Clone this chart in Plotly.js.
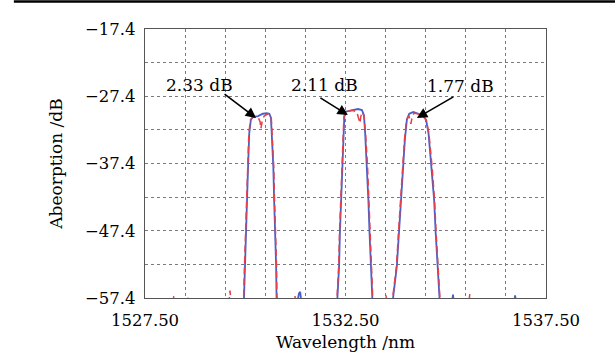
<!DOCTYPE html>
<html>
<head>
<meta charset="utf-8">
<script src="https://cdn.plot.ly/plotly-3.0.1.min.js"></script>
<style>html,body{margin:0;padding:0;background:#fff;}#chart{width:615px;height:352px;}</style>
</head>
<body>
<div id="chart"></div>
<script>
// ---- data ----
const blueWl = [1527.50, 1528.80, 1529.30, 1529.94, 1529.97, 1529.99, 1530.02, 1530.04, 1530.07, 1530.10, 1530.14, 1530.19, 1530.32, 1530.44, 1530.54, 1530.60, 1530.64, 1530.66, 1530.70, 1530.72, 1530.75, 1530.77, 1530.78, 1530.80, 1531.20, 1531.30, 1531.34, 1531.37, 1531.42, 1532.28,
  1532.30, 1532.34, 1532.36, 1532.39, 1532.41, 1532.45, 1532.47, 1532.50, 1532.66, 1532.81, 1532.91, 1532.96, 1532.99, 1533.04, 1533.07, 1533.10, 1533.13, 1533.16, 1533.18, 1533.67,
  1533.69, 1533.78, 1533.83, 1533.88, 1533.94, 1533.98, 1534.03, 1534.09, 1534.19, 1534.32, 1534.44, 1534.51, 1534.57, 1534.65, 1534.71, 1534.75, 1534.79, 1534.84, 1534.86, 1535.14, 1535.18, 1535.22, 1536.69, 1536.73, 1536.77, 1537.50];
const blueDb = [-59.0, -59.0, -59.0, -59.0, -57.2, -52.7, -47.8, -42.8, -37.9, -32.9, -30.9, -30.5, -30.35, -30.0, -29.9, -30.0, -30.6, -32.9, -37.9, -42.8, -47.8, -52.7, -57.2, -59.0, -59.0, -58.0, -56.7, -56.5, -59.0, -59.0,
  -57.2, -52.7, -47.8, -42.8, -37.9, -32.9, -30.45, -29.7, -29.45, -29.3, -29.45, -30.2, -32.9, -37.9, -42.8, -47.8, -52.7, -57.2, -59.0, -59.0,
  -57.2, -52.7, -47.8, -42.8, -37.9, -33.9, -30.9, -30.0, -29.75, -30.0, -30.35, -30.9, -32.9, -37.9, -42.8, -47.8, -52.7, -57.2, -59.0, -59.0, -56.9, -59.0, -59.0, -57.0, -59.0, -59.0];

const redWl = [1527.50, 1528.18, 1528.22, 1528.26, 1528.53, 1528.57, 1528.61, 1529.58, 1529.62, 1529.66, 1529.93, 1529.96, 1529.98, 1530.01, 1530.03, 1530.06, 1530.09, 1530.13, 1530.17, 1530.27, 1530.32, 1530.37, 1530.39, 1530.42, 1530.47, 1530.57, 1530.61, 1530.65, 1530.67, 1530.71, 1530.73, 1530.76, 1530.78, 1530.79, 1530.81, 1531.20, 1531.24, 1531.28, 1532.27,
  1532.29, 1532.33, 1532.35, 1532.38, 1532.40, 1532.44, 1532.46, 1532.50, 1532.66, 1532.78, 1532.83, 1532.86, 1532.88, 1532.91, 1532.96, 1533.00, 1533.05, 1533.08, 1533.11, 1533.14, 1533.17, 1533.19, 1533.47, 1533.51, 1533.55, 1533.66,
  1533.68, 1533.77, 1533.82, 1533.87, 1533.93, 1533.97, 1534.02, 1534.08, 1534.11, 1534.13, 1534.16, 1534.21, 1534.32, 1534.44, 1534.51, 1534.58, 1534.66, 1534.72, 1534.76, 1534.80, 1534.85, 1534.87, 1535.56, 1535.60, 1535.64, 1537.50];
const redDb = [-59.0, -59.0, -57.0, -59.0, -59.0, -57.3, -59.0, -59.0, -56.3, -59.0, -59.0, -57.2, -52.7, -47.8, -42.8, -37.9, -32.9, -30.9, -30.6, -30.35, -30.5, -31.2, -32.2, -31.2, -30.35, -30.0, -30.1, -30.7, -32.9, -37.9, -42.8, -47.8, -52.7, -57.2, -59.0, -59.0, -57.1, -59.0, -59.0,
  -57.2, -52.7, -47.8, -42.8, -37.9, -32.9, -30.5, -29.75, -29.5, -29.7, -30.7, -31.4, -30.5, -29.75, -30.3, -32.9, -37.9, -42.8, -47.8, -52.7, -57.2, -59.0, -59.0, -57.0, -59.0, -59.0,
  -57.2, -52.7, -47.8, -42.8, -37.9, -33.9, -30.9, -30.3, -30.9, -31.5, -30.6, -29.9, -30.05, -30.4, -30.9, -32.9, -37.9, -42.8, -47.8, -52.7, -57.2, -59.0, -59.0, -56.8, -59.0, -59.0];

const xTickVals = [1527.5, 1528.5, 1529.5, 1530.5, 1531.5, 1532.5, 1533.5, 1534.5, 1535.5, 1536.5, 1537.5];
const xTickText = ['1527.50', '', '', '', '', '1532.50', '', '', '', '', '1537.50'];
const yTickVals = [-57.4, -52.4, -47.4, -42.4, -37.4, -32.4, -27.4, -22.4, -17.4];
const yTickText = ['\u221257.4', '', '\u221247.4', '', '\u221237.4', '', '\u221227.4', '', '\u221217.4'];

const dipLabels = ['2.33 dB', '2.11 dB', '1.77 dB'];
const dipTipWl = [1530.27, 1532.56, 1534.28];
const dipTipDb = [-30.63, -30.19, -30.63];

// ---- layout-only positions ----
const labelPos = [[1528.87, -25.73], [1531.98, -25.73], [1535.36, -25.88]];
const arrowOff = [[-33, -25], [-29, -18], [38, -22]];

const FONT = 'DejaVu Serif, Liberation Serif, serif';

const traces = [
  {x: blueWl, y: blueDb, type: 'scatter', mode: 'lines', line: {color: '#4a5fc6', width: 1.8}, hoverinfo: 'skip'},
  {x: redWl, y: redDb, type: 'scatter', mode: 'lines', line: {color: '#e8404a', width: 1.5, dash: '7px,4px'}, hoverinfo: 'skip'}
];

const annotations = [];
for (let i = 0; i < dipLabels.length; i++) {
  annotations.push({x: labelPos[i][0], y: labelPos[i][1], xref: 'x', yref: 'y', text: dipLabels[i], showarrow: false,
    font: {family: FONT, size: 17, color: '#000'}, xanchor: 'center', yanchor: 'middle'});
  annotations.push({x: dipTipWl[i], y: dipTipDb[i], xref: 'x', yref: 'y', text: ' ', showarrow: true,
    ax: arrowOff[i][0], ay: arrowOff[i][1], arrowhead: 2, arrowsize: 1.3, arrowwidth: 1.6, arrowcolor: '#000', standoff: 0, startstandoff: 0,
    font: {size: 1}});
}

const layout = {
  width: 615, height: 352,
  margin: {l: 145, r: 69, t: 29, b: 54, pad: 0},
  paper_bgcolor: '#ffffff', plot_bgcolor: '#ffffff',
  showlegend: false,
  font: {family: FONT, color: '#000', size: 16},
  xaxis: {
    range: [1527.5, 1537.5], tickvals: xTickVals, ticktext: xTickText, ticks: '',
    showgrid: true, gridcolor: '#7a7a7a', griddash: 'dot', gridwidth: 1,
    showline: true, linecolor: '#555', linewidth: 1.2, mirror: true, zeroline: false,
    tickfont: {family: FONT, size: 16.5, color: '#000'}, ticklabelstandoff: 7,
    title: {text: 'Wavelength /nm', font: {family: FONT, size: 17, color: '#000'}, standoff: 8}
  },
  yaxis: {
    range: [-57.4, -17.4], tickvals: yTickVals, ticktext: yTickText, ticks: '',
    showgrid: true, gridcolor: '#7a7a7a', griddash: 'dot', gridwidth: 1,
    showline: true, linecolor: '#555', linewidth: 1.2, mirror: true, zeroline: false,
    tickfont: {family: FONT, size: 16.5, color: '#000'}, ticklabelstandoff: 5,
    title: {text: 'Abeorption /dB', font: {family: FONT, size: 17, color: '#000'}, standoff: 18}
  },
  annotations: annotations,
  shapes: [
    {type: 'line', xref: 'paper', yref: 'paper', x0: -0.327, x1: 1.2, y0: 1.1025, y1: 1.1025, line: {color: '#000', width: 2.5}}
  ]
};

Plotly.newPlot('chart', traces, layout, {displayModeBar: false, staticPlot: true});
</script>
</body>
</html>
